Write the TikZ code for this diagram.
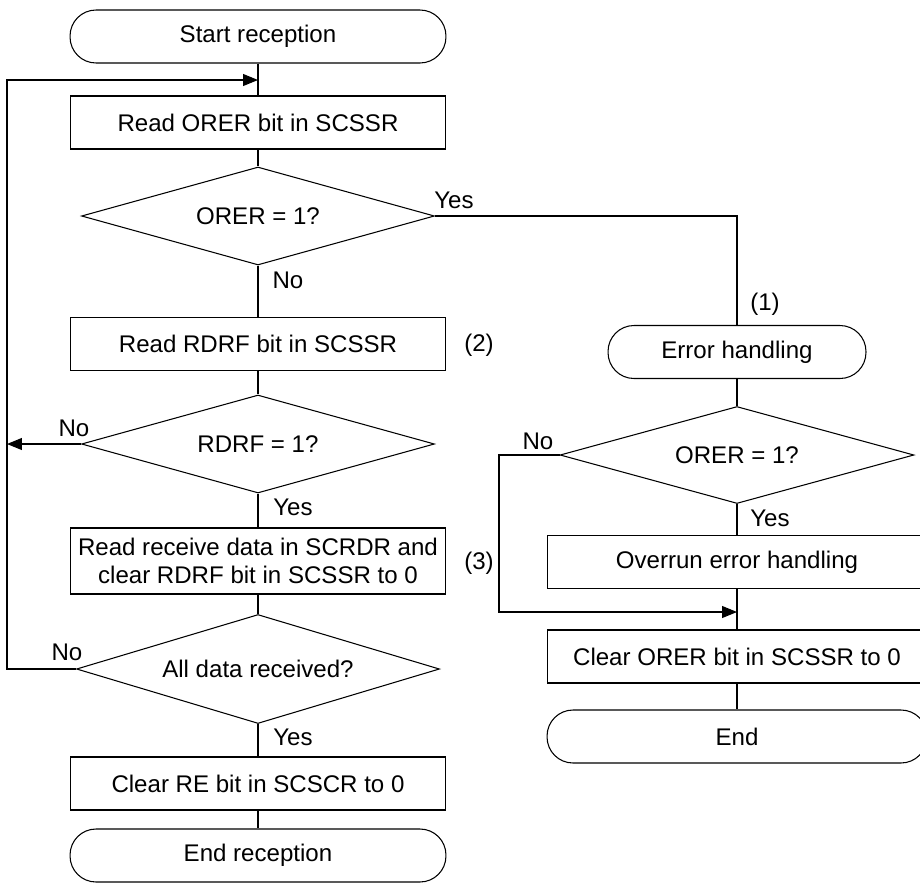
\documentclass[tikz,border=0pt]{standalone}
\usepackage{fontspec}
\setmainfont{Liberation Sans}
\usepackage{tikz}
\usetikzlibrary{arrows.meta, shapes.geometric}

\begin{document}
\begin{tikzpicture}[
    x=0.02cm, y=-0.02cm, line width=0.6pt,
    every node/.style={font=\fontsize{13.7}{16}\selectfont},
    proc/.style={rectangle, draw, minimum width=7.52cm, minimum height=1.06cm, align=center, inner sep=2pt},
    term/.style={rectangle, rounded corners=0.52cm, draw, minimum width=#1, minimum height=1.06cm},
    decide/.style={diamond, draw, aspect=3.6, minimum width=7.06cm, minimum height=1.96cm, inner sep=0pt},
    arr/.style={-{Triangle[length=0.3cm, width=0.24cm]}},
    lbl/.style={inner sep=0pt}
]
\useasboundingbox (0,0) rectangle (920,883);

% main reception flow
\node[term=7.52cm] (start) at (258,36.5) {Start reception};
\node[proc] (rd_orer) at (258,122.5) {Read ORER bit in SCSSR};
\node[decide] (d_orer) at (258,216) {ORER = 1?};
\node[proc] (rd_rdrf) at (258,344) {Read RDRF bit in SCSSR};
\node[decide] (d_rdrf) at (258,444) {RDRF = 1?};
\node[proc, minimum height=1.32cm] (rd_data) at (258,561) {Read receive data in SCRDR and\\clear RDRF bit in SCSSR to 0};
\node[decide, aspect=3.33, minimum width=7.26cm, minimum height=2.18cm] (d_all) at (258,669) {All data received?};
\node[proc] (clr_re) at (258,783.5) {Clear RE bit in SCSCR to 0};
\node[term=7.52cm] (end_rx) at (258,855.5) {End reception};

% error branch
\node[term=5.16cm] (err) at (737,352) {Error handling};
\node[decide, aspect=3.65, minimum width=7.08cm, minimum height=1.94cm] (d_orer2) at (737,455) {ORER = 1?};
\node[proc, minimum width=7.6cm] (overrun) at (737,562) {Overrun error handling};
\node[proc, minimum width=7.6cm] (clr_orer) at (737,656.5) {Clear ORER bit in SCSSR to 0};
\node[term=7.6cm] (end_err) at (737,736.5) {End};

\coordinate (lpin) at (258,80);
\coordinate (lpT) at (7,80);
\coordinate (lpB) at (7,669);
\coordinate (lpR) at (7,444);
\coordinate (nR) at (499,612);
\coordinate (jn) at (737,612);

\draw (start) -- (rd_orer);
\draw (rd_orer) -- (d_orer);
\draw (d_orer) -- (rd_rdrf);
\draw (rd_rdrf) -- (d_rdrf);
\draw (d_rdrf) -- (rd_data);
\draw (rd_data) -- (d_all);
\draw (d_all) -- (clr_re);
\draw (clr_re) -- (end_rx);
\draw[arr] (d_rdrf.west) -- (lpR);
\draw[arr] (d_all.west) -- (lpB) -- (lpT) -- (lpin);
\draw (d_orer.east) -| (err.north);
\draw (err) -- (d_orer2);
\draw (d_orer2) -- (overrun);
\draw (overrun) -- (clr_orer);
\draw (clr_orer) -- (end_err);
\draw[arr] (d_orer2.west) -| (nR) -- (jn);

% branch labels
\node[lbl] (y1) at (454,200) {Yes};
\node[lbl] (n1) at (288,280) {No};
\node[lbl] (n2) at (74,428) {No};
\node[lbl] (y2) at (293,507) {Yes};
\node[lbl] (n3) at (67,652) {No};
\node[lbl] (y3) at (293,737) {Yes};
\node[lbl] (n4) at (538,441) {No};
\node[lbl] (y4) at (770,518) {Yes};

% step marks
\node[lbl] (m1) at (765,304) {(1)};
\node[lbl] (m2) at (479,345) {(2)};
\node[lbl] (m3) at (479,563) {(3)};

\end{tikzpicture}
\end{document}
